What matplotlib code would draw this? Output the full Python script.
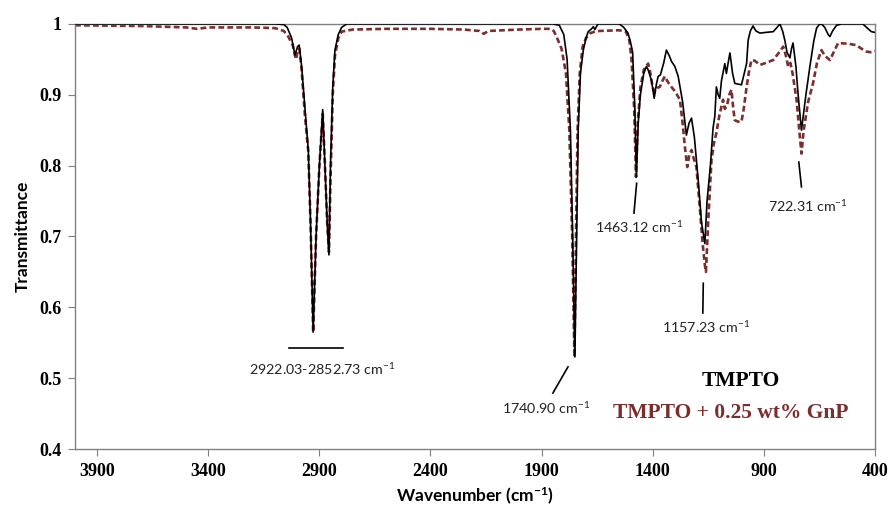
import numpy as np
import matplotlib.pyplot as plt

# Wavenumber (cm-1) and transmittance

wn_pure = [4000, 3500, 3100, 3060, 3045, 3025, 3010, 2998, 2991, 2980, 2965, 2950,
           2940, 2928, 2915, 2900, 2885, 2875, 2865, 2857, 2850, 2840, 2830, 2815,
           2800, 2777, 2000, 1850, 1820, 1800, 1785, 1770, 1760, 1750, 1742, 1735,
           1725, 1712, 1700, 1690, 1675, 1667, 1660, 1646, 1550, 1530, 1511, 1500,
           1490, 1480, 1473, 1465, 1455, 1440, 1428, 1420, 1405, 1393, 1383, 1375,
           1365, 1350, 1338, 1325, 1315, 1300, 1285, 1265, 1248, 1236, 1225, 1212,
           1195, 1180, 1165, 1155, 1140, 1128, 1120, 1113, 1105, 1098, 1090, 1075,
           1068, 1060, 1052, 1040, 1030, 1015, 1000, 988, 977, 970, 960, 948, 935,
           917, 890, 857, 840, 827, 815, 805, 795, 782, 775, 768, 755, 745, 730, 722,
           710, 692, 675, 662, 650, 640, 625, 610, 602, 590, 572, 550, 454, 430, 415,
           400]
t_pure = [1.0, 1.0, 1.0, 0.999, 0.995, 0.98, 0.956, 0.968, 0.970, 0.94, 0.88, 0.822,
          0.72, 0.565, 0.70, 0.80, 0.879, 0.80, 0.72, 0.674, 0.80, 0.91, 0.963, 0.985,
          0.995, 1.0, 1.0, 1.0, 0.998, 0.985, 0.95, 0.85, 0.70, 0.530, 0.70, 0.85,
          0.93, 0.963, 0.98, 0.989, 0.993, 0.996, 0.992, 1.0, 1.0, 0.995, 0.987, 0.975,
          0.96, 0.88, 0.784, 0.86, 0.90, 0.93, 0.940, 0.935, 0.92, 0.895, 0.915, 0.926,
          0.928, 0.945, 0.963, 0.955, 0.947, 0.94, 0.926, 0.89, 0.843, 0.86, 0.867, 0.84,
          0.78, 0.72, 0.690, 0.75, 0.80, 0.853, 0.87, 0.911, 0.90, 0.895, 0.92, 0.944,
          0.93, 0.945, 0.959, 0.93, 0.916, 0.915, 0.914, 0.93, 0.944, 0.977, 0.99, 0.997, 0.99,
          0.987, 0.988, 0.989, 0.995, 1.0, 0.99, 0.977, 0.96, 0.952, 0.965, 0.973, 0.94, 0.90, 0.850, 0.87,
          0.90, 0.94, 0.975, 0.994, 0.999, 1.0, 0.995, 0.985, 0.982, 0.99, 0.998, 1.0, 1.0, 0.993, 0.989,
          0.988]

wn_gnp = [4000, 3700, 3500, 3450, 3400, 3200, 3100, 3060, 3040, 3020, 3010, 3005, 2998,
          2990, 2980, 2965, 2950, 2940, 2928, 2915, 2900, 2885, 2875, 2865, 2857, 2850,
          2840, 2830, 2815, 2800, 2750, 2600, 2400, 2250, 2180, 2160, 2140, 2000, 1900,
          1860, 1845, 1830, 1810, 1790, 1775, 1762, 1752, 1745, 1738, 1728, 1715, 1700,
          1680, 1660, 1640, 1550, 1520, 1505, 1495, 1483, 1475, 1467, 1455, 1440, 1430,
          1420, 1410, 1400, 1390, 1378, 1368, 1355, 1345, 1335, 1323, 1300, 1277, 1265,
          1255, 1244, 1235, 1225, 1215, 1203, 1190, 1175, 1165, 1160, 1150, 1135, 1125,
          1113, 1100, 1083, 1075, 1065, 1055, 1045, 1037, 1030, 1015, 1000, 990, 977,
          965, 955, 940, 917, 890, 857, 830, 812, 800, 790, 780, 770, 760, 752, 740,
          730, 720, 700, 678, 660, 640, 625, 602, 585, 565, 520, 483, 460, 438, 420, 400]
t_gnp = [0.998, 0.997, 0.995, 0.993, 0.995, 0.995, 0.994, 0.99, 0.982, 0.97, 0.955, 0.950,
         0.962, 0.965, 0.935, 0.87, 0.82, 0.72, 0.565, 0.70, 0.80, 0.873, 0.80, 0.72, 0.678,
         0.78, 0.90, 0.955, 0.98, 0.989, 0.992, 0.993, 0.993, 0.992, 0.99, 0.986, 0.99,
         0.992, 0.993, 0.993, 0.99, 0.98, 0.965, 0.93, 0.85, 0.70, 0.53, 0.70, 0.85, 0.93,
         0.968, 0.98, 0.987, 0.989, 0.99, 0.991, 0.989, 0.977, 0.95, 0.88, 0.784, 0.86, 0.91,
         0.935, 0.94, 0.944, 0.93, 0.91, 0.904, 0.91, 0.911, 0.92, 0.926, 0.92, 0.914, 0.905,
         0.893, 0.86, 0.827, 0.798, 0.815, 0.822, 0.81, 0.798, 0.75, 0.69, 0.660, 0.650, 0.72,
         0.808, 0.83, 0.846, 0.87, 0.893, 0.88, 0.885, 0.90, 0.907, 0.88, 0.864, 0.862, 0.862,
         0.88, 0.911, 0.935, 0.949, 0.948, 0.942, 0.945, 0.949, 0.96, 0.968, 0.955, 0.940,
         0.945, 0.93, 0.91, 0.893, 0.85, 0.817, 0.85, 0.89, 0.916, 0.945, 0.963, 0.955, 0.949,
         0.96, 0.973, 0.972, 0.970, 0.965, 0.961, 0.96, 0.962]

xticks = [3900, 3400, 2900, 2400, 1900, 1400, 900, 400]
yticks = [0.4, 0.5, 0.6, 0.7, 0.8, 0.9, 1.0]
ytick_labels = ["0.4", "0.5", "0.6", "0.7", "0.8", "0.9", "1"]

red = "#7b2e2e"

plt.rcParams["mathtext.default"] = "regular"

fig = plt.figure(figsize=(8.89, 5.08), dpi=100)
ax = fig.add_axes([0.0844, 0.116, 0.8996, 0.837])

ax.plot(wn_pure, t_pure, color="black", lw=1.2, zorder=3)
ax.plot(wn_gnp, t_gnp, color=red, lw=1.9, ls=(0, (2.2, 1.2)), zorder=2)

ax.set_xlim(4000, 400)
ax.set_ylim(0.4, 1.0)
ax.set_xticks(xticks)
ax.set_yticks(yticks)
ax.set_yticklabels(ytick_labels)
for lab in ax.get_xticklabels() + ax.get_yticklabels():
    lab.set_family("Liberation Serif")
    lab.set_weight("bold")
    lab.set_fontsize(13)
ax.tick_params(direction="out", length=5, color="#808080", pad=5)
for s in ax.spines.values():
    s.set_color("#808080")
    s.set_linewidth(1)

ax.set_xlabel("Wavenumber (cm$^{-1}$)", family="Lato", weight="bold", fontsize=12.5, labelpad=4)
ax.set_ylabel("Transmittance", family="Lato", weight="bold", fontsize=12.5, labelpad=6)

# peak labels
ann = dict(family="Lato", fontsize=10.3, color="#222222", ha="center", va="center")
ax.plot([3037, 2794], [0.5424, 0.5424], color="black", lw=1.2)
ax.text(2888, 0.513, "2922.03-2852.73 cm$^{-1}$", **ann)
ax.plot([1781, 1849], [0.516, 0.479], color="black", lw=1.2)
ax.text(1880, 0.458, "1740.90 cm$^{-1}$", **ann)
ax.plot([1472, 1484], [0.775, 0.733], color="black", lw=1.2)
ax.text(1462, 0.713, "1463.12 cm$^{-1}$", **ann)
ax.plot([1172, 1174], [0.634, 0.592], color="black", lw=1.2)
ax.text(1160, 0.572, "1157.23 cm$^{-1}$", **ann)
ax.plot([742, 730], [0.805, 0.770], color="black", lw=1.2)
ax.text(701, 0.743, "722.31 cm$^{-1}$", **ann)

# legend as text
ax.text(1003, 0.496, "TMPTO", family="Liberation Serif", weight="bold",
        fontsize=15.5, color="black", ha="center", va="center")
ax.text(1048, 0.451, "TMPTO + 0.25 wt% GnP", family="Liberation Serif", weight="bold",
        fontsize=15.5, color=red, ha="center", va="center")

fig.savefig("out.png", dpi=100)
